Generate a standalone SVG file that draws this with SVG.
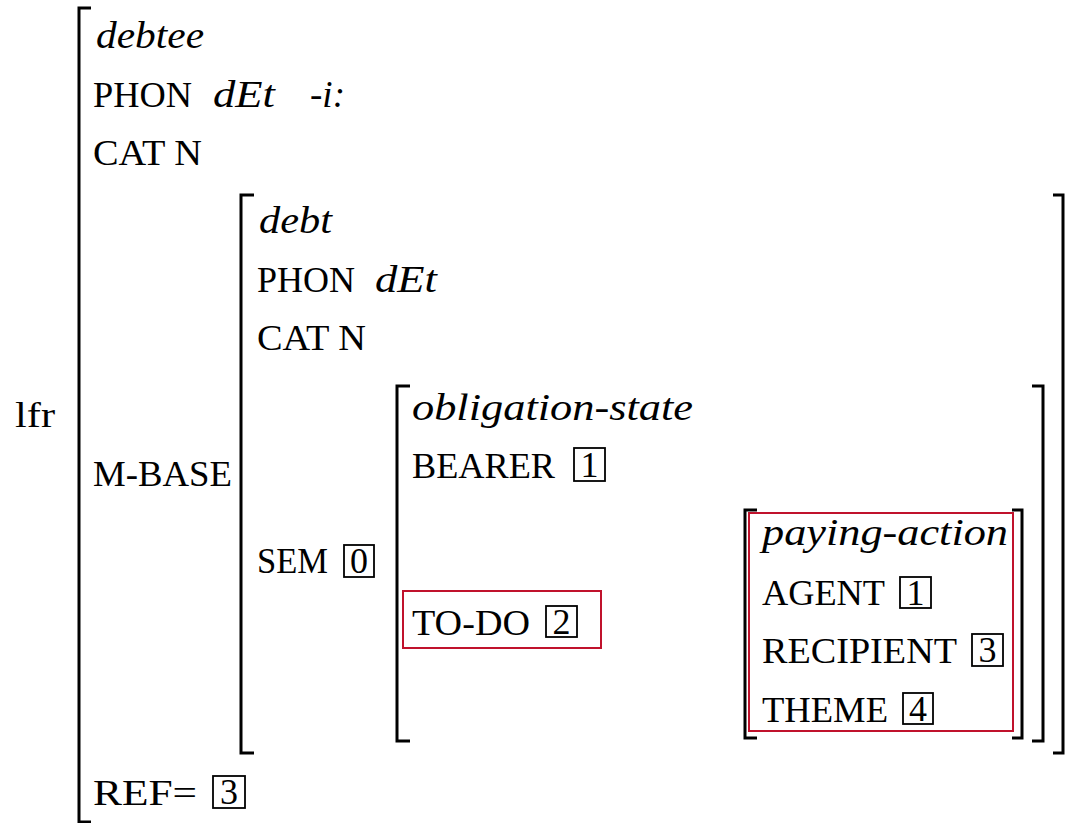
<svg xmlns="http://www.w3.org/2000/svg" width="1070" height="823" viewBox="0 0 1070 823">
<style>
  .r { font-family: "Liberation Serif", "DejaVu Serif", serif; font-size: 36px; fill: #000; }
  .i { font-family: "Liberation Serif", "DejaVu Serif", serif; font-style: italic; font-size: 38px; fill: #000; }
  .n { font-family: "Liberation Serif", "DejaVu Serif", serif; font-size: 36px; fill: #000; text-anchor: middle; }
  .br { fill: none; stroke: #000; stroke-width: 3; }
  .tag { fill: none; stroke: #000; stroke-width: 1.8; }
  .hl { fill: none; stroke: #c0122c; stroke-width: 2; }
</style>
<rect width="1070" height="823" fill="#fff"/>

<g id="brackets">
  <path class="br" d="M91,8 H79 V822 H91"/>
  <path class="br" d="M254,195 H241 V753 H254"/>
  <path class="br" d="M1053,195 H1063 V753 H1053"/>
  <path class="br" d="M410,386 H397 V741 H410"/>
  <path class="br" d="M1032,386 H1043 V741 H1032"/>
  <path class="br" d="M757,510 H745 V738 H757"/>
  <path class="br" d="M1012,510 H1022 V738 H1012"/>
</g>

<g id="label-lfr"><text class="r" x="15" y="427" textLength="40" lengthAdjust="spacingAndGlyphs">lfr</text></g>

<g id="outer-avm">
  <text class="i" x="96" y="48" textLength="108" lengthAdjust="spacingAndGlyphs">debtee</text>
  <text class="r" x="93" y="107" textLength="99" lengthAdjust="spacingAndGlyphs">PHON</text>
  <text class="i" x="213" y="107" textLength="62" lengthAdjust="spacingAndGlyphs">dEt</text>
  <text class="i" x="310" y="107" textLength="35" lengthAdjust="spacingAndGlyphs">-i:</text>
  <text class="r" x="93" y="165" textLength="109" lengthAdjust="spacingAndGlyphs">CAT N</text>
  <text class="r" x="93" y="486" textLength="139" lengthAdjust="spacingAndGlyphs">M-BASE</text>
  <text class="r" x="93" y="805" textLength="104" lengthAdjust="spacingAndGlyphs">REF=</text>
  <rect class="tag" x="213" y="776" width="32" height="32"/>
  <text class="n" x="229" y="804">3</text>
</g>

<g id="mbase-avm">
  <text class="i" x="259" y="233" textLength="73" lengthAdjust="spacingAndGlyphs">debt</text>
  <text class="r" x="257" y="292" textLength="98" lengthAdjust="spacingAndGlyphs">PHON</text>
  <text class="i" x="375" y="292" textLength="62" lengthAdjust="spacingAndGlyphs">dEt</text>
  <text class="r" x="257" y="350" textLength="109" lengthAdjust="spacingAndGlyphs">CAT N</text>
  <text class="r" x="257" y="573" textLength="71" lengthAdjust="spacingAndGlyphs">SEM</text>
  <rect class="tag" x="344" y="545" width="30" height="32"/>
  <text class="n" x="359" y="573">0</text>
</g>

<g id="sem-avm">
  <text class="i" x="412" y="420" textLength="281" lengthAdjust="spacingAndGlyphs">obligation-state</text>
  <text class="r" x="412" y="478" textLength="143" lengthAdjust="spacingAndGlyphs">BEARER</text>
  <rect class="tag" x="574" y="448" width="31" height="33"/>
  <text class="n" x="589.5" y="477">1</text>
</g>

<g id="todo">
  <rect class="hl" x="403" y="591" width="198" height="57"/>
  <text class="r" x="412" y="635" textLength="118" lengthAdjust="spacingAndGlyphs">TO-DO</text>
  <rect class="tag" x="546" y="606" width="31" height="31"/>
  <text class="n" x="561.5" y="634">2</text>
</g>

<g id="paying-action">
  <rect class="hl" x="749" y="513" width="264" height="218"/>
  <text class="i" x="762" y="545" textLength="246" lengthAdjust="spacingAndGlyphs">paying-action</text>
  <text class="r" x="762" y="605" textLength="123" lengthAdjust="spacingAndGlyphs">AGENT</text>
  <rect class="tag" x="900" y="577" width="31" height="31"/>
  <text class="n" x="915.5" y="605">1</text>
  <text class="r" x="762" y="663" textLength="195" lengthAdjust="spacingAndGlyphs">RECIPIENT</text>
  <rect class="tag" x="972" y="634" width="31" height="32"/>
  <text class="n" x="987.5" y="662">3</text>
  <text class="r" x="762" y="722" textLength="126" lengthAdjust="spacingAndGlyphs">THEME</text>
  <rect class="tag" x="903" y="693" width="30" height="31"/>
  <text class="n" x="918" y="721">4</text>
</g>
</svg>
